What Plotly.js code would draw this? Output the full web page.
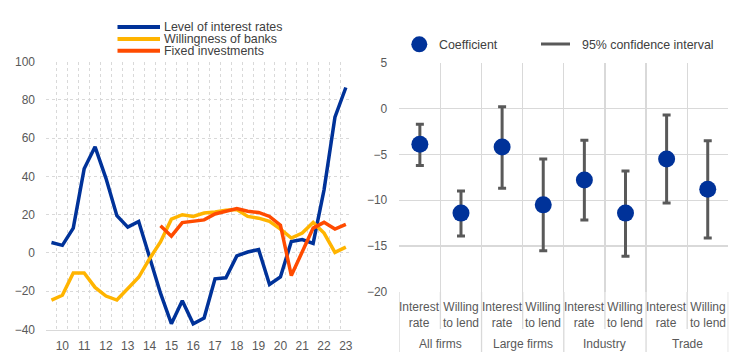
<!DOCTYPE html>
<html><head><meta charset="utf-8">
<script src="https://cdn.plot.ly/plotly-3.0.1.min.js"></script>
<style>html,body{margin:0;padding:0;background:#fff}#chart{width:744px;height:355px}</style>
</head><body><div id="chart"></div>
<script>
// ---------- Left chart data (half-yearly) ----------
const periods = ['2009 H2','2010 H1','2010 H2','2011 H1','2011 H2','2012 H1','2012 H2','2013 H1','2013 H2',
  '2014 H1','2014 H2','2015 H1','2015 H2','2016 H1','2016 H2','2017 H1','2017 H2','2018 H1','2018 H2',
  '2019 H1','2019 H2','2020 H1','2020 H2','2021 H1','2021 H2','2022 H1','2022 H2','2023 H1'];
const yearLabels = ['10','11','12','13','14','15','16','17','18','19','20','21','22','23'];
const labelPeriods = ['2010 H1','2011 H1','2012 H1','2013 H1','2014 H1','2015 H1','2016 H1','2017 H1','2018 H1','2019 H1','2020 H1','2021 H1','2022 H1','2023 H1'];
const levelOfInterestRates = [5.5, 4, 13, 44, 55.5, 39, 19.5, 13.5, 16.5, -2, -21, -37, -25, -37, -34, -13.5, -13, -1.5, 0.5, 1.8, -16.5, -12.5, 6, 7, 5, 33, 71, 86.5];
const willingnessOfBanks = [-24.6, -22.1, -10.4, -10.4, -18, -22.5, -24.6, -18.9, -12.7, -3, 5.8, 17.7, 20, 19.1, 20.9, 21.4, 22.3, 22.7, 19.1, 18.2, 16.5, 12.5, 7.8, 10.4, 16, 10.4, 0.3, 3.1];
const fixedInvestments = [null, null, null, null, null, null, null, null, null, null, 14.2, 8.8, 15.9, 16.8, 17.3, 20.4, 21.8, 23.2, 21.8, 21.2, 19.1, 14.5, -11.8, 1, 13, 16, 12.5, 15];
const leftSeriesNames = ['Level of interest rates', 'Willingness of banks', 'Fixed investments'];

// ---------- Right chart data ----------
const groups = ['All firms', 'Large firms', 'Industry', 'Trade'];
const subCategories = ['Interest<br>rate', 'Willing<br>to lend', 'Interest<br>rate', 'Willing<br>to lend', 'Interest<br>rate', 'Willing<br>to lend', 'Interest<br>rate', 'Willing<br>to lend'];
const coefficient = [-3.9, -11.4, -4.2, -10.5, -7.8, -11.4, -5.5, -8.8];
const ciUpper = [-1.7, -9.0, 0.2, -5.5, -3.45, -6.8, -0.7, -3.5];
const ciLower = [-6.2, -13.9, -8.7, -15.5, -12.15, -16.1, -10.3, -14.1];
const rightLegend = ['Coefficient', '95% confidence interval'];

// ---------- styling ----------
const BLUE = '#003299', YELLOW = '#FFB400', ORANGE = '#FF4B00', GREY = '#595959', GRID = '#d9d9d9';
const FONT = 'Liberation Sans, Arial, sans-serif';
const W = 744, H = 355;
const px = x => x / W, py = y => (H - y) / H;

const xIdx = periods.map((p, i) => i);
const tickIdx = labelPeriods.map(p => periods.indexOf(p));
const rIdx = coefficient.map((c, i) => i);

const traces = [
  {x: xIdx, y: levelOfInterestRates, type: 'scatter', mode: 'lines', name: leftSeriesNames[0], line: {color: BLUE, width: 3.5}, xaxis: 'x', yaxis: 'y'},
  {x: xIdx, y: willingnessOfBanks, type: 'scatter', mode: 'lines', name: leftSeriesNames[1], line: {color: YELLOW, width: 3.5}, xaxis: 'x', yaxis: 'y'},
  {x: xIdx, y: fixedInvestments, type: 'scatter', mode: 'lines', name: leftSeriesNames[2], line: {color: ORANGE, width: 3.5}, xaxis: 'x', yaxis: 'y', connectgaps: false},
  {x: rIdx, y: coefficient, type: 'scatter', mode: 'markers', name: rightLegend[0],
   marker: {color: BLUE, size: 17},
   error_y: {type: 'data', symmetric: false,
     array: ciUpper.map((u, i) => u - coefficient[i]),
     arrayminus: ciLower.map((l, i) => coefficient[i] - l),
     color: GREY, thickness: 3, width: 4},
   xaxis: 'x2', yaxis: 'y2'}
];

const annotations = [];
const shapes = [];
// left legend
const legY = [27, 39, 50.7];
const legCol = [BLUE, YELLOW, ORANGE];
leftSeriesNames.forEach((n, i) => {
  shapes.push({type: 'line', xref: 'paper', yref: 'paper', x0: px(117.5), x1: px(160), y0: py(legY[i]), y1: py(legY[i]), line: {color: legCol[i], width: 4}});
  annotations.push({xref: 'paper', yref: 'paper', x: px(162), y: py(legY[i]), xanchor: 'left', yanchor: 'middle', text: n, showarrow: false, font: {family: FONT, size: 12.4, color: '#404040'}});
});
// right legend
shapes.push({type: 'circle', xref: 'paper', yref: 'paper', x0: px(411.3), x1: px(427.3), y0: py(36.3), y1: py(52.3), fillcolor: BLUE, line: {width: 0}});
annotations.push({xref: 'paper', yref: 'paper', x: px(437), y: py(44.5), xanchor: 'left', yanchor: 'middle', text: rightLegend[0], showarrow: false, font: {family: FONT, size: 12.4, color: '#404040'}});
shapes.push({type: 'line', xref: 'paper', yref: 'paper', x0: px(541), x1: px(570), y0: py(44), y1: py(44), line: {color: GREY, width: 3}});
annotations.push({xref: 'paper', yref: 'paper', x: px(580), y: py(44.5), xanchor: 'left', yanchor: 'middle', text: rightLegend[1], showarrow: false, font: {family: FONT, size: 12.4, color: '#404040'}});
// right category labels
subCategories.forEach((s, i) => {
  annotations.push({xref: 'x2', yref: 'paper', x: i, y: py(314.5), xanchor: 'center', yanchor: 'middle', text: s, showarrow: false, font: {family: FONT, size: 12, color: GREY}});
});
groups.forEach((g, gi) => {
  annotations.push({xref: 'x2', yref: 'paper', x: gi * 2 + 0.5, y: py(343.5), xanchor: 'center', yanchor: 'middle', text: g, showarrow: false, font: {family: FONT, size: 12, color: GREY}});
});
// right dividers below plot
for (let k = 0; k <= 8; k++) {
  const long = (k % 2 === 0);
  shapes.push({type: 'line', xref: 'x2', yref: 'paper', x0: k - 0.5, x1: k - 0.5, y0: py(292), y1: py(long ? 352 : 329), line: {color: GRID, width: 1.3}});
}

const layout = {
  width: W, height: H, margin: {l: 0, r: 0, t: 0, b: 0},
  paper_bgcolor: '#fff', plot_bgcolor: '#fff', showlegend: false,
  font: {family: FONT, size: 12, color: GREY},
  xaxis: {domain: [px(46), px(351.3)], range: [-0.5, 27.5], tickmode: 'array', tickvals: tickIdx, ticktext: yearLabels,
    showgrid: false, zeroline: false, showline: true, linecolor: GRID, linewidth: 1.3, ticks: '', ticklabelstandoff: 5,
    minor: {tickmode: 'linear', tick0: -0.5, dtick: 1, showgrid: true, gridcolor: GRID, griddash: 'dot', gridwidth: 1, ticks: ''},
    fixedrange: true},
  yaxis: {domain: [py(329.5), py(61.7)], range: [-40, 100], dtick: 20, tick0: 0, showgrid: true, gridcolor: GRID, griddash: 'dot',
    zeroline: false, showline: false, ticks: '', ticklabelstandoff: 10, fixedrange: true},
  xaxis2: {domain: [px(399.3), px(728.3)], range: [-0.5, 7.5], anchor: 'y2', showticklabels: false, showgrid: false, zeroline: false,
    showline: false, ticks: '',
    minor: {tickmode: 'linear', tick0: -0.5, dtick: 1, showgrid: true, gridcolor: GRID, gridwidth: 1.3, ticks: ''},
    fixedrange: true},
  yaxis2: {domain: [py(292), py(62.7)], range: [-20, 5], dtick: 5, tick0: 0, anchor: 'x2', showgrid: true, gridcolor: GRID, gridwidth: 1.3,
    zeroline: false, showline: false, ticks: '', ticklabelstandoff: 11, fixedrange: true},
  annotations: annotations, shapes: shapes
};

Plotly.newPlot('chart', traces, layout, {staticPlot: true, displayModeBar: false});
</script></body></html>
